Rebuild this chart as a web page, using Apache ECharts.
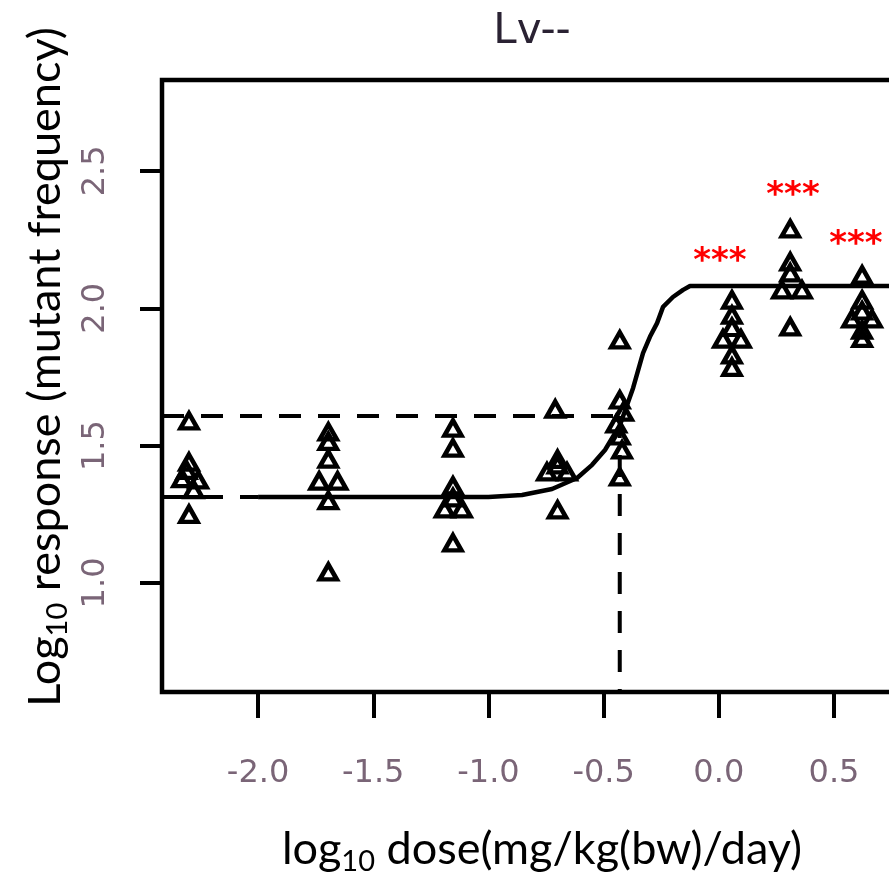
<!DOCTYPE html>
<html>
<head>
<meta charset="utf-8">
<script src="https://cdn.jsdelivr.net/npm/echarts@6/dist/echarts.min.js"></script>
<style>
  html, body { margin: 0; padding: 0; background: #fff; }
  #chart { width: 889px; height: 879px; }
</style>
</head>
<body>
<div id="chart"></div>
<script>
// axis ticks
const xTicks = [-2.0, -1.5, -1.0, -0.5, 0.0, 0.5];
const yTicks = [1.0, 1.5, 2.0, 2.5];

// observed animals: log10 dose, log10 mutant frequency
const obsDose = [
  -2.30, -2.30, -2.31, -2.33, -2.26, -2.28, -2.30,
  -1.695, -1.695, -1.695, -1.735, -1.655, -1.695, -1.695,
  -1.154, -1.154, -1.154, -1.154, -1.19, -1.115, -1.154,
  -0.71, -0.70, -0.70, -0.746, -0.659, -0.70,
  -0.43, -0.43, -0.415, -0.445, -0.43, -0.42, -0.43,
  0.057, 0.057, 0.057, 0.018, 0.096, 0.057, 0.057,
  0.31, 0.31, 0.31, 0.274, 0.361, 0.31,
  0.622, 0.622, 0.622, 0.578, 0.665, 0.622, 0.622
];
const obsResp = [
  1.59, 1.44, 1.41, 1.38, 1.375, 1.34, 1.25,
  1.55, 1.515, 1.451, 1.371, 1.371, 1.30, 1.04,
  1.564, 1.491, 1.353, 1.31, 1.27, 1.27, 1.146,
  1.633, 1.45, 1.43, 1.404, 1.404, 1.266,
  1.885, 1.666, 1.622, 1.579, 1.535, 1.484, 1.386,
  2.03, 1.975, 1.93, 1.888, 1.888, 1.83, 1.785,
  2.289, 2.169, 2.129, 2.067, 2.067, 1.932,
  2.121, 2.03, 1.99, 1.961, 1.961, 1.92, 1.89
];

// fitted curve
const fitX = [-2.0, -1.0, -0.854, -0.724, -0.615, -0.55, -0.494, -0.429, -0.372, -0.329, -0.299, -0.268, -0.242, -0.199, -0.155, -0.125, 0.88];
const fitY = [1.313, 1.313, 1.320, 1.342, 1.382, 1.430, 1.484, 1.575, 1.710, 1.837, 1.896, 1.946, 2.005, 2.041, 2.067, 2.081, 2.081];

// reference lines (background level, CES level, BMD)
const bgLevel = 1.313;
const cesLevel = 1.608;
const bmdDose = -0.43;

// significance marks
const starDose = [0.005, 0.322, 0.595];
const starResp = [2.198, 2.438, 2.260];
const starText = ['***', '***', '***'];

const xMin = -2.417, xMax = 0.882;
const yMin = 0.603, yMax = 2.831;

const chart = echarts.init(document.getElementById('chart'));

const tickFont = { fontFamily: 'DejaVu Sans', fontSize: 32, color: '#7a6577' };
const nameRich = {
  a: { fontFamily: 'Lato', fontSize: 45, color: '#000', lineHeight: 54, verticalAlign: 'middle' },
  sub: { fontFamily: 'Lato', fontSize: 29, color: '#000', lineHeight: 29, verticalAlign: 'bottom' }
};

const dashStyle = { color: '#000', width: 4, type: [22, 17] };

chart.setOption({
  animation: false,
  title: {
    text: 'Lv--',
    left: 527,
    top: 6,
    textAlign: 'center',
    textStyle: { fontFamily: 'DejaVu Sans', fontSize: 42, fontWeight: 'normal', color: '#2a2233' }
  },
  grid: {
    left: 162, top: 80, width: 760, height: 612,
    outerBoundsMode: 'none',
    containLabel: false,
    show: true, borderColor: '#000', borderWidth: 4.5, backgroundColor: 'transparent'
  },
  xAxis: {
    type: 'value', min: xMin, max: xMax,
    axisLine: { show: false, onZero: false },
    splitLine: { show: false },
    axisTick: { show: true, length: 26, lineStyle: { color: '#000', width: 4 }, customValues: xTicks },
    axisLabel: {
      customValues: xTicks, margin: 66, ...tickFont,
      formatter: v => v.toFixed(1)
    },
    name: '{a|log}{sub|10}{a| dose(mg/kg(bw)/day)}',
    nameLocation: 'middle',
    nameGap: 130,
    nameTextStyle: { rich: nameRich }
  },
  yAxis: {
    type: 'value', min: yMin, max: yMax,
    axisLine: { show: false, onZero: false },
    splitLine: { show: false },
    axisTick: { show: true, length: 22, lineStyle: { color: '#000', width: 4 }, customValues: yTicks },
    axisLabel: {
      customValues: yTicks, margin: 50, rotate: 90, ...tickFont,
      formatter: v => v.toFixed(1)
    },
    name: '{a|Log}{sub|10}{a| response (mutant frequency)}',
    nameLocation: 'middle',
    nameRotate: 90,
    nameGap: 80,
    nameTextStyle: { rich: nameRich, padding: [0, 0, 0, 38] }
  },
  series: [
    {
      type: 'line', symbol: 'none', silent: true,
      lineStyle: dashStyle,
      data: [[xMin, bgLevel], [fitX[0], bgLevel]]
    },
    {
      type: 'line', symbol: 'none', silent: true,
      lineStyle: dashStyle,
      data: [[xMin, cesLevel], [bmdDose, cesLevel]]
    },
    {
      type: 'line', symbol: 'none', silent: true,
      lineStyle: dashStyle,
      data: [[bmdDose, cesLevel], [bmdDose, yMin]]
    },
    {
      type: 'line', symbol: 'none', silent: true,
      lineStyle: { color: '#000', width: 4.5 },
      data: fitX.map((x, i) => [x, fitY[i]])
    },
    {
      type: 'scatter',
      symbol: 'triangle',
      symbolSize: [17, 15],
      itemStyle: { color: 'rgba(0,0,0,0)', borderColor: '#000', borderWidth: 4.5, opacity: 1 },
      data: obsDose.map((x, i) => [x, obsResp[i]])
    },
    {
      type: 'scatter',
      symbolSize: 1,
      itemStyle: { color: 'rgba(0,0,0,0)', opacity: 1 },
      label: {
        show: true, position: 'inside', offset: [0, 8],
        fontFamily: 'DejaVu Sans', fontSize: 34, fontWeight: 'bold', color: '#ff0000',
        formatter: p => starText[p.dataIndex]
      },
      data: starDose.map((x, i) => [x, starResp[i]])
    }
  ]
});
</script>
</body>
</html>
